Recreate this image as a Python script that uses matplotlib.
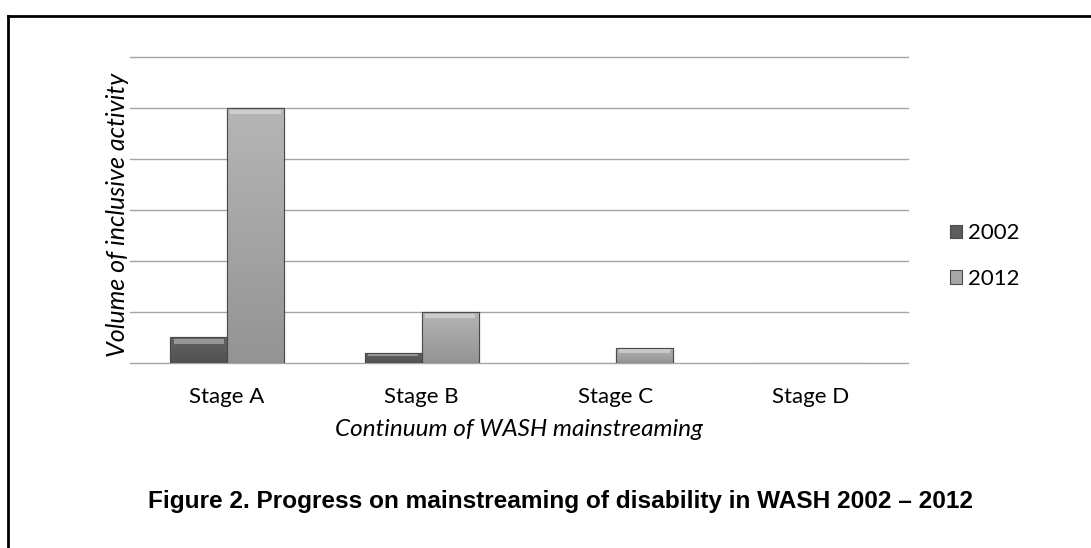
import matplotlib
matplotlib.use("Agg")
import matplotlib.pyplot as plt
import numpy as np
from matplotlib.lines import Line2D
from matplotlib.patches import Rectangle

categories = ["Stage A", "Stage B", "Stage C", "Stage D"]
series_names = ["2002", "2012"]
values_2002 = [0.5, 0.2, 0.0, 0.0]
values_2012 = [5.0, 1.0, 0.3, 0.0]
colors = ["#5c5c5c", "#a8a8a8"]
y_max = 6

fig = plt.figure(figsize=(10.91, 5.48), dpi=100)
ax = fig.add_axes([0.119, 0.3376, 0.713, 0.5584])

x = np.arange(len(categories))
width = 0.293
for i, (vals, col) in enumerate(zip([values_2002, values_2012], colors)):
    offs = (i - 0.5) * width
    bars = ax.bar(x + offs, vals, width, color=col, edgecolor="#4a4a4a",
                  linewidth=0.8, label=series_names[i], zorder=3)
    base = np.array(matplotlib.colors.to_rgb(col))
    for b in bars:
        h = b.get_height()
        if h <= 0:
            continue
        x0, w = b.get_x(), b.get_width()
        grad = np.linspace(1.08, 0.88, 64)[:, None, None] * base[None, None, :]
        grad = np.clip(np.repeat(grad, 2, axis=1), 0, 1)
        im = ax.imshow(grad, extent=[x0, x0 + w, 0, h], origin="upper",
                       aspect="auto", zorder=3.5)
        im.set_clip_path(b)
        bev = min(0.12, h * 0.35)
        ax.add_patch(Rectangle((x0 + w * 0.06, h - bev), w * 0.88, bev * 0.7,
                               facecolor="white", alpha=0.35, edgecolor="none",
                               zorder=3.6))
        ax.add_patch(Rectangle((x0, 0), w, h, facecolor="none",
                               edgecolor="#4a4a4a", linewidth=0.8, zorder=3.7))

ax.set_xlim(-0.5, len(categories) - 0.5)
ax.set_ylim(0, y_max)
ax.set_yticks(np.arange(0, y_max + 1, 1))
ax.set_yticklabels([])
ax.grid(axis="y", color="#a6a6a6", linewidth=1.0, zorder=0)
for gl in ax.get_ygridlines():
    gl.set_clip_on(False)
ax.tick_params(axis="both", length=0)
for s in ax.spines.values():
    s.set_visible(False)
ax.set_xticks(x)
ax.set_xticklabels(categories, fontsize=16, family="Lato")
ax.tick_params(axis="x", pad=17)
ax.set_xlabel("Continuum of WASH mainstreaming", fontsize=17.5, family="Lato",
              style="italic", labelpad=9)
ax.set_ylabel("Volume of inclusive activity", fontsize=18, family="Lato",
              style="italic")
ax.yaxis.set_label_coords(-0.001, 0.485)

leg = ax.legend(loc="center left", bbox_to_anchor=(1.029, 0.35), frameon=False,
                prop={"family": "Lato", "size": 16}, handlelength=0.55,
                handleheight=0.55, labelspacing=1.15, handletextpad=0.25)

fig.text(0.514, 0.085, "Figure 2. Progress on mainstreaming of disability in WASH 2002 \u2013 2012",
         ha="center", va="center", fontsize=17.6, fontweight="bold",
         family="Liberation Sans")

fig.add_artist(Line2D([8 / 1091, 1.0], [1 - 16 / 548, 1 - 16 / 548],
                      transform=fig.transFigure, color="black", linewidth=2))
fig.add_artist(Line2D([8 / 1091, 8 / 1091], [0.0, 1 - 16 / 548],
                      transform=fig.transFigure, color="black", linewidth=2))

fig.savefig("out.png", dpi=100, facecolor="white")
